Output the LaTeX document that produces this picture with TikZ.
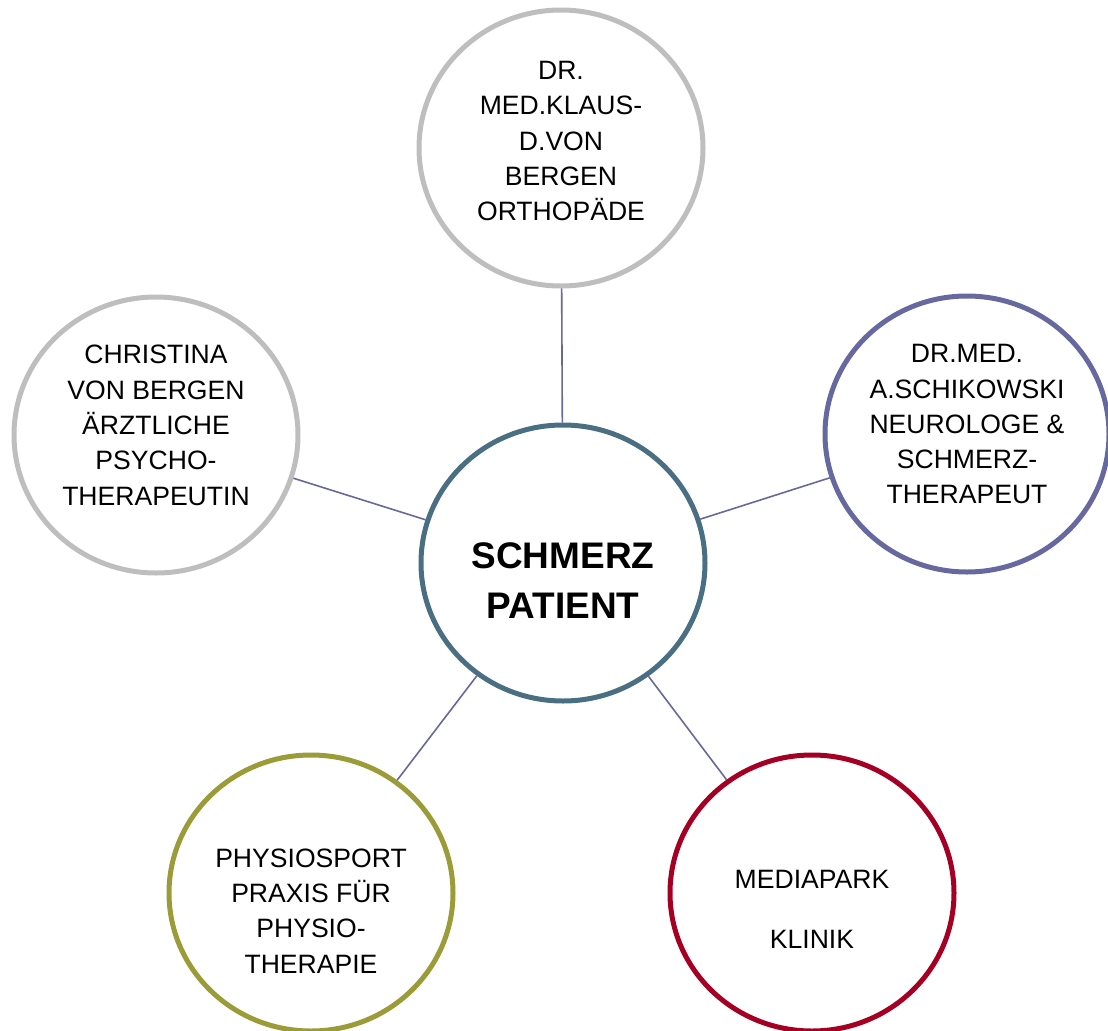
\documentclass[tikz,border=0pt]{standalone}
\usepackage{fontspec}
\setmainfont{Liberation Sans}
\usetikzlibrary{shapes.geometric}

\definecolor{ringgray}{RGB}{190,190,190}
\definecolor{ringteal}{RGB}{74,110,130}
\definecolor{ringpurple}{RGB}{104,104,160}
\definecolor{ringolive}{RGB}{155,155,56}
\definecolor{ringred}{RGB}{165,0,36}

\tikzset{
  ring/.style={ellipse, draw=#1, line width=0.125cm, fill=white,
    minimum width=7.1cm, minimum height=6.9cm, inner sep=0pt},
  ringtext/.style={align=center, font=\fontsize{18.9}{25.1}\selectfont},
  link/.style={draw=ringpurple, line width=0.04cm}
}

\begin{document}
\begin{tikzpicture}
\useasboundingbox (0,0) rectangle (27.7,-25.775);

\node[ring=ringteal] (patient) at (14.075,-14.075) {};
\node[ring=ringgray] (ortho) at (14.025,-3.7) {};
\node[ring=ringgray] (psycho) at (3.9,-10.875) {};
\node[ring=ringpurple] (neuro) at (24.175,-10.85) {};
\node[ring=ringolive] (physio) at (7.775,-22.325) {};
\node[ring=ringred] (klinik) at (20.3,-22.325) {};

\draw[link] (patient) -- (ortho);
\draw[link] (patient) -- (psycho);
\draw[link] (patient) -- (neuro);
\draw[link] (patient) -- (physio);
\draw[link] (patient) -- (klinik);

\node[ringtext, font=\bfseries\fontsize{26.3}{35.6}\selectfont] (patient-t)
  at ([yshift=-0.44cm]patient.center) {SCHMERZ\\PATIENT};
\node[ringtext] (ortho-t) at ([yshift=0.175cm]ortho.center)
  {DR.\\MED.KLAUS-\\D.VON\\BERGEN\\ORTHOPÄDE};
\node[ringtext] (psycho-t) at ([yshift=0.24cm]psycho.center)
  {CHRISTINA\\VON BERGEN\\ÄRZTLICHE\\PSYCHO-\\THERAPEUTIN};
\node[ringtext] (neuro-t) at ([yshift=0.24cm]neuro.center)
  {DR.MED.\\A.SCHIKOWSKI\\NEUROLOGE \&\\SCHMERZ-\\THERAPEUT};
\node[ringtext] (physio-t) at ([yshift=-0.45cm]physio.center)
  {PHYSIOSPORT\\PRAXIS FÜR\\PHYSIO-\\THERAPIE};
\node[ringtext] (klinik-t) at ([yshift=-0.41cm]klinik.center)
  {MEDIAPARK\\[0.64cm]KLINIK};

\end{tikzpicture}
\end{document}
